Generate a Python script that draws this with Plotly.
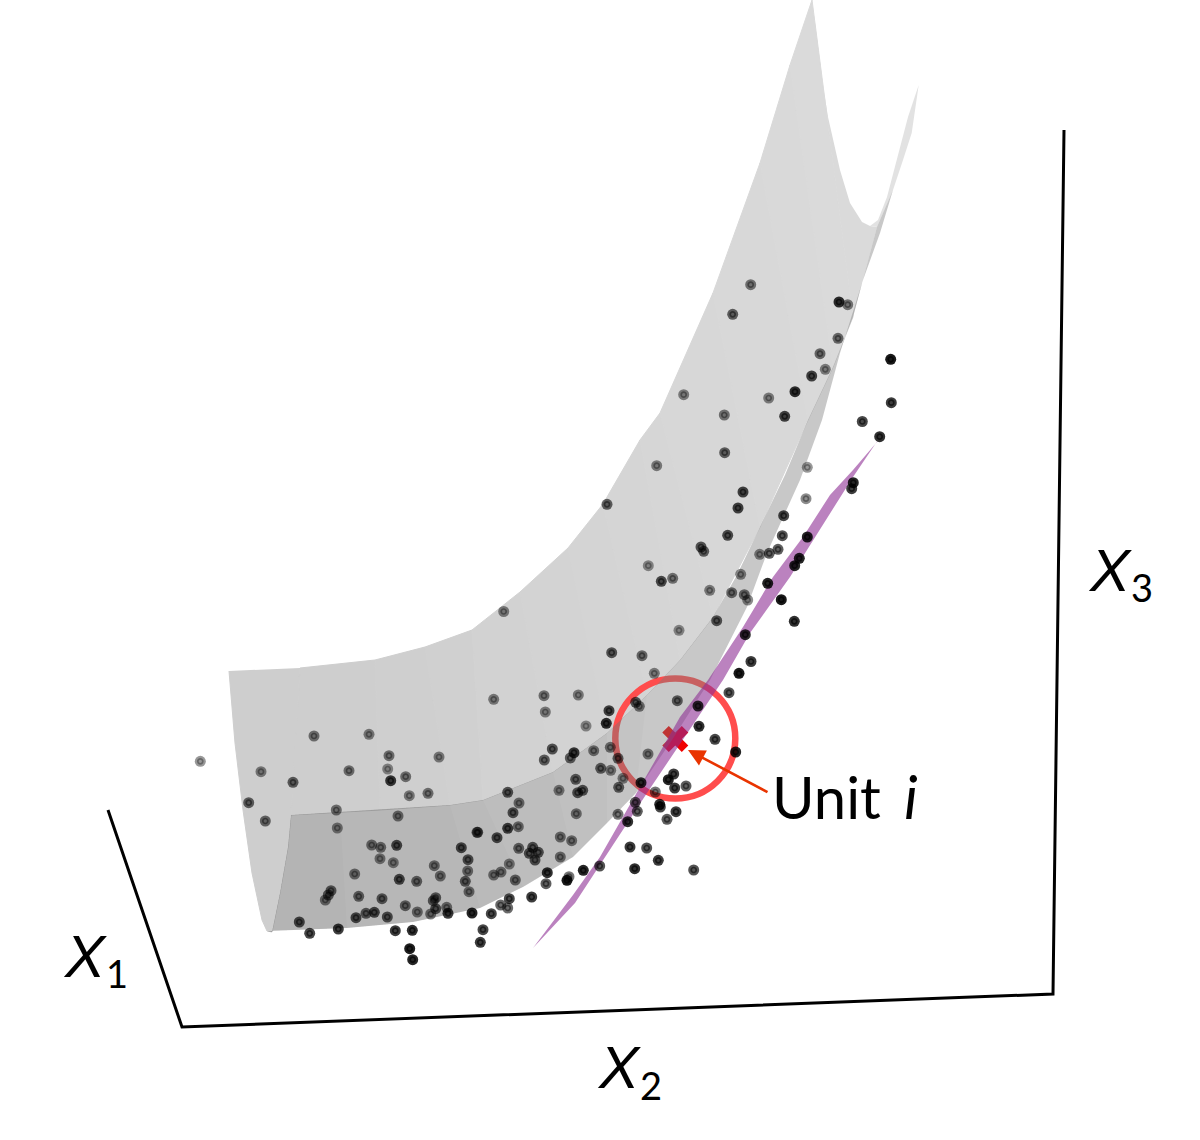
import plotly.graph_objects as go

# Unit points: (x2-like position, x3-like position, depth shade)
point_x = [200.3,261,293,248.7,265.3,314,369,389,387.7,390.7,349,405.7,439,409.3,428,336.3,337.3,398,477,371.7,380.7,396.7,380,393.3,461.3,468,467.7,434.3,440.3,465.3,354.7,399.3,416.7,469,331,328.3,325.3,358.7,382,435.7,433.3,405.3,435.7,446.7,417.3,430.7,448,472,374.3,366,356,387.3,299.3,309.7,338.3,395.3,412.3,409.7,412.7,
 493.7,544,578.3,545.3,586,654.3,609,606.3,635.7,639.3,677.3,698,729,739,751,699,715,735.7,552.3,544.3,574,570.3,593.7,610.3,618,648,600.7,610.7,575.7,623,559,582.7,577.7,618.7,641,673.7,668.3,674.7,686,655.3,635.3,659.7,660.3,637.3,676,618,627.7,667,507.7,519,513,576.3,518.3,507.7,477.7,497,560.3,571.7,518.7,532.7,529.3,538.3,535,630,646.7,560.3,509.3,658.3,634.7,693.7,583.3,599.7,547.3,501,493.7,515.3,569,567,546,531.7,509.3,500.7,507.7,491.3,483,480.3,
 656.7,724.7,743,738,607,807.3,806,879.7,862.3,853.3,851.7,783.7,782.3,807.3,778,769.3,759.7,799.3,794.7,727.7,701,703.7,648.3,672.7,661.3,740.7,767.7,709.7,731.7,744.3,747.7,781.3,794.3,716.7,679,745.3,611.7,642,
 750.7,732.7,839,847.7,838,820,825.3,811.7,795,683.7,768.7,724.3,784.7,890.7,891.3,503.7]
point_y = [761.3,771.7,782.3,802.7,821,736,734.3,755.7,769,780.7,770.7,776.7,757,795.7,793.3,810,828,816,832.3,845,847.3,845.3,858.7,862.7,847.7,859.7,871,865.7,876,881.3,874,879.3,881.3,891.7,890.7,895,900,896.3,898.7,897.7,900.7,905.7,908.7,907.3,912,914,913.3,913,912.3,913.3,917.7,917,922,933.3,929,930.7,930.3,948.7,959.7,
 699.3,695.7,695,712,726,673.3,710.7,723.3,702.3,706.3,700.7,706,692.7,673.3,661.5,726.3,739.3,752,749,760,752.7,758,750.7,747.3,758.3,754,768.3,770.3,779.3,778.3,790.3,790.3,792.7,787.3,782.7,774,779.7,788,786,792,802.3,804.3,807,811.3,811.7,814.3,821.7,819.3,792.3,803,812.7,813.7,826.7,828.3,832.3,837.7,837,840.7,848.3,847.3,853.3,852.3,860,847,848,857,864,860.3,868.7,870,870.3,866,872.7,872,875,880,876.7,880.3,883.7,897,898.7,905,908,913.7,929.7,942.3,
 465.7,452.7,492,508,504.3,467.3,498.7,436.7,421.5,482.7,488.7,515.7,535.7,537,549.3,553.3,554.3,558.3,565.7,535.3,547,551.3,565.7,578.3,581.3,574.3,583.3,590.3,592.7,594.7,600,599.7,621.3,620.7,630.3,634.7,652.7,655.7,
 284.7,314.3,302,304.7,338.3,353.7,369.3,376,391.7,394.7,398,415,416.3,359.3,402.7,611.5]
point_shade = [.45,.5,.65,.65,.6,.55,.5,.55,.45,.85,.55,.55,.5,.5,.55,.55,.5,.55,.6,.55,.55,.75,.5,.5,.75,.7,.55,.55,.55,.65,.55,.75,.6,.55,.65,.65,.55,.6,.65,.65,.65,.6,.7,.55,.55,.55,.85,.95,.75,.65,.75,.7,.75,.8,.85,.85,.9,.98,.95,
 .5,.55,.5,.5,.45,.5,.8,.9,.7,.55,.65,.9,.75,1,.85,.9,.8,.95,.7,.65,.85,.65,.55,.55,.65,.55,.65,.5,.65,.5,.5,.7,.7,.65,.9,.85,.95,.85,.7,.6,.7,.9,.8,.7,.85,.6,.9,.7,.7,.55,.7,.55,.55,.8,.65,.75,.55,.55,.6,.7,.7,.7,.7,.85,.75,.55,.5,.85,.9,.75,.95,.75,.9,.55,.55,.6,.6,1,.7,.85,.8,.65,.65,.8,.8,.85,
 .5,.65,.8,.8,.65,.45,.5,.9,.8,.95,.85,.8,.75,.95,.7,.7,.5,.95,.95,.75,.7,.65,.45,.55,.75,.5,.95,.5,.6,.6,.5,1,.9,.7,.45,.9,.7,.6,
 .55,.65,.9,.55,.6,.6,.5,.8,.9,.5,.5,.55,.8,1,.85,.5]

# Curved surface outlines
surf_left_x = [229,235,243,252,262,267,272,280,288,291,300]
surf_left_y = [671,743,810,873,920,931,932,893,847,815,668]
surf_top_x = [300,375,425,472,520,568,603,640,660,713,760,790,812]
surf_top_y = [668,660,647,630,592,548,504,440,413,293,163,65,0]
surf_seam_x = [291,380,450,483,553,607,647,680,713,760,808,833,853]
surf_seam_y = [815,810,805,800,772,733,695,660,617,527,420,367,317]
surf_light_shade = [206,207,208,210,211,212,213,214,215,216,217,218]
surf_tip_x = [812,820,828,840,850,862,870,877,853]
surf_tip_y = [0,67,117,170,203,222,226,227,317]
surf_strip_x = [870,878,887,897,908,918.7,911.7,903,893,877]
surf_strip_y = [226,220,197,160,117,85,133,160,190,227]

band_inner_x = [291,340,380,450,483,553,607,647,680,713,737,760,785,808,833,853,877,893]
band_inner_y = [815,812,810,805,800,772,733,695,660,617,575,527,475,420,367,317,227,190]
band_outer_x = [267,347,413,480,523,573,607,636,672,710,747,767,800,822,840,863,880,893]
band_outer_y = [931,928,922,908,887,857,823,793,740,680,607,553,480,420,353,280,233,190]
band_edge_x = [272,280,288]
band_edge_y = [932,893,847]
band_dark_steps = [7,6,5,4,3,1]

# Local plane
plane_x = [533,573,600,631,680,708,743,773,803,830,853,877,878,853,820,790,750,723,647,610,575]
plane_y = [948,895,857,803,717,680,627,577,537,495,470,442,440,477,530,577,633,680,793,850,903]

# Axes
axis_x = [108,182,1053,1064]
axis_y = [810,1027,994,130]
axis_digits = ["1", "2", "3"]
axis_x_label_x = [85, 619, 1110]
axis_x_label_y = [956, 1067, 570]
axis_digit_x = [116.5, 650.5, 1141.5]
axis_digit_y = [973, 1085, 587]

# Unit i
unit_x = [675.3]
unit_y = [739]
ring_x = [675.3]
ring_y = [738.5]
arrow_tail = (769, 793)
arrow_head = (688, 750)

fig = go.Figure()

def poly(xs, ys, color, edge=False):
    fig.add_trace(go.Scatter(x=xs, y=ys, mode="lines", fill="toself", fillcolor=color,
                             line=dict(width=1 if edge else 0, color=color), hoverinfo="skip", showlegend=False))

poly(surf_left_x, surf_left_y, "rgb(206,206,206)", True)
for i, g in enumerate(surf_light_shade):
    poly([surf_top_x[i], surf_top_x[i+1], surf_seam_x[i+1], surf_seam_x[i], surf_top_x[i]],
         [surf_top_y[i], surf_top_y[i+1], surf_seam_y[i+1], surf_seam_y[i], surf_top_y[i]],
         f"rgb({g},{g},{g})", True)
poly(surf_tip_x, surf_tip_y, "rgb(218,218,218)")
poly(surf_strip_x, surf_strip_y, "rgb(226,226,226)")

fig.add_trace(go.Scatter(x=ring_x, y=ring_y, mode="markers", hoverinfo="skip", showlegend=False,
                         marker=dict(symbol="circle-open", size=120, color="#ff4d4d", line=dict(width=6.5, color="#ff4d4d"))))
fig.add_trace(go.Scatter(x=unit_x, y=unit_y, mode="markers", hoverinfo="skip", showlegend=False,
                         marker=dict(symbol="x", size=23, color="#f00000", line=dict(width=0))))

def band_part(k, color):
    xs = band_inner_x[:k+1] + band_outer_x[:k+1][::-1] + band_edge_x
    ys = band_inner_y[:k+1] + band_outer_y[:k+1][::-1] + band_edge_y
    poly(xs, ys, color)

band_part(len(band_inner_x) - 1, "rgba(125,125,125,0.42)")
for k in band_dark_steps:
    band_part(k, "rgba(0,0,0,0.015)")

poly(plane_x, plane_y, "rgba(142,47,148,0.6)")

disc_colors = [f"rgba(0,0,0,{s * 0.9:.3f})" for s in point_shade]
ring_colors = [f"rgba(0,0,0,{s * 0.72:.3f})" for s in point_shade]
fig.add_trace(go.Scatter(x=point_x, y=point_y, mode="markers", hoverinfo="skip", showlegend=False,
                         marker=dict(size=11, color=disc_colors, line=dict(width=0))))
fig.add_trace(go.Scatter(x=point_x, y=point_y, mode="markers", hoverinfo="skip", showlegend=False,
                         marker=dict(symbol="circle-open", size=5, color=ring_colors, line=dict(width=1.7))))

fig.add_trace(go.Scatter(x=axis_x, y=axis_y, mode="lines", hoverinfo="skip", showlegend=False,
                         line=dict(color="black", width=3)))

SANS = "Liberation Sans"
DIGIT = "Lato"
def label(x, y, text, size, family):
    fig.add_annotation(x=x, y=y, xref="x", yref="y", text=text, showarrow=False,
                       xanchor="center", yanchor="middle", borderpad=0,
                       font=dict(family=family, size=size, color="black"))

for d, lx, ly, dx, dy in zip(axis_digits, axis_x_label_x, axis_x_label_y, axis_digit_x, axis_digit_y):
    label(lx, ly, "<i>X</i>", 60, SANS)
    label(dx, dy, d, 38, DIGIT)

fig.add_annotation(x=770, y=796, xref="x", yref="y", text="Unit", showarrow=False,
                   xanchor="left", yanchor="middle", font=dict(family=DIGIT, size=58, color="black"))
label(911, 796, "<i>i</i>", 60, DIGIT)

fig.add_annotation(x=arrow_head[0], y=arrow_head[1], ax=arrow_tail[0], ay=arrow_tail[1],
                   xref="x", yref="y", axref="x", ayref="y", text="", showarrow=True,
                   arrowhead=2, arrowsize=1.3, arrowwidth=2.6, arrowcolor="#e93400")

fig.update_layout(width=1200, height=1140, margin=dict(l=0, r=0, t=0, b=0),
                  paper_bgcolor="white", plot_bgcolor="white", showlegend=False,
                  xaxis=dict(range=[0, 1200], visible=False, fixedrange=True),
                  yaxis=dict(range=[1140, 0], visible=False, fixedrange=True))

fig.write_html("out.html", config=dict(displayModeBar=False),
               post_script="document.body.style.margin='0';document.body.style.overflow='hidden';")
